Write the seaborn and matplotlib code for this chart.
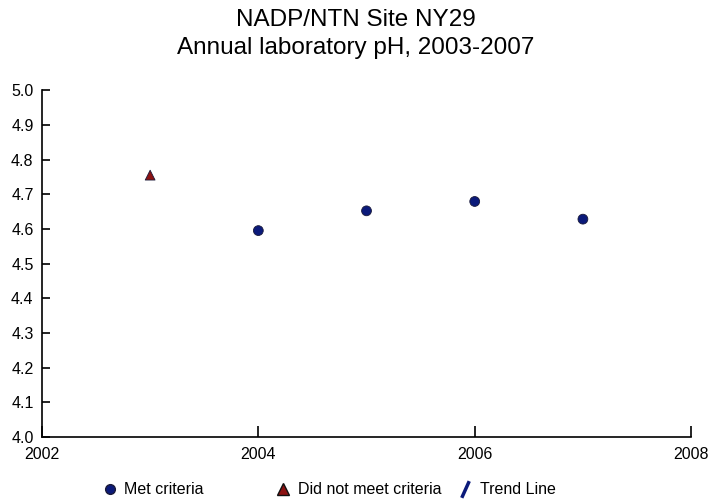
import matplotlib
matplotlib.use("Agg")
import matplotlib.pyplot as plt
from matplotlib.lines import Line2D
import seaborn as sns
import pandas as pd

years = [2003, 2004, 2005, 2006, 2007]
ph = [4.755, 4.595, 4.652, 4.679, 4.628]
status = ["Did not meet criteria", "Met criteria", "Met criteria", "Met criteria", "Met criteria"]
x_ticks = [2002, 2004, 2006, 2008]
y_ticks = [4.0, 4.1, 4.2, 4.3, 4.4, 4.5, 4.6, 4.7, 4.8, 4.9, 5.0]
legend_labels = ["Met criteria", "Did not meet criteria", "Trend Line"]

sns.set_theme(style="white")
plt.rcParams['font.family'] = ['Liberation Sans', 'DejaVu Sans']
plt.rcParams['text.color'] = 'black'
plt.rcParams['xtick.color'] = 'black'
plt.rcParams['ytick.color'] = 'black'

df = pd.DataFrame({"year": years, "ph": ph, "status": status})

fig = plt.figure(figsize=(7.11, 5.01), dpi=100)
ax = fig.add_axes([0.059, 0.128, 0.913, 0.692])

navy = "#0b1a7a"
dred = "#8b1212"
palette = {"Met criteria": navy, "Did not meet criteria": dred}
markers = {"Met criteria": "o", "Did not meet criteria": "^"}
sns.scatterplot(data=df, x="year", y="ph", hue="status", style="status",
                palette=palette, markers=markers, s=50, edgecolor="#1a1a3a",
                linewidth=0.6, legend=False, ax=ax, zorder=3)

ax.set_xlim(2002, 2008)
ax.set_ylim(4.0, 5.0)
ax.set_xticks(x_ticks)
ax.set_xticklabels([str(t) for t in x_ticks])
ax.set_yticks(y_ticks)
ax.set_yticklabels([f"{t:.1f}" for t in y_ticks])
ax.set_xlabel("")
ax.set_ylabel("")
for s in ["top", "right"]:
    ax.spines[s].set_visible(False)
for s in ["left", "bottom"]:
    ax.spines[s].set_color("black")
    ax.spines[s].set_linewidth(1.2)
ax.tick_params(axis="y", direction="in", length=6, width=1.2, color="black",
               labelsize=11.5, pad=6, left=True, labelcolor="black")
ax.tick_params(axis="x", direction="in", length=8, width=1.2, color="black",
               labelsize=11.5, pad=7, bottom=True, labelcolor="black")

fig.suptitle("NADP/NTN Site NY29\nAnnual laboratory pH, 2003-2007",
             fontsize=17.5, y=0.982, linespacing=1.38, color="black")

handles = [
    Line2D([], [], linestyle="none", marker="o", markersize=7,
           markerfacecolor=navy, markeredgecolor="#1a1a3a"),
    Line2D([], [], linestyle="none", marker="^", markersize=8,
           markerfacecolor=dred, markeredgecolor="#111111"),
    Line2D([], [], linestyle="none", marker=[(-0.45, -1), (0.45, 1)], markersize=12,
           markeredgecolor=navy, markeredgewidth=2.5),
]
anchors = [0.1406, 0.385, 0.641]
for h, lab, xa in zip(handles, legend_labels, anchors):
    fig.legend([h], [lab], loc="center left", bbox_to_anchor=(xa, 0.022),
               frameon=False, fontsize=11.5, handletextpad=0.3,
               handlelength=1.2, borderpad=0, borderaxespad=0)

fig.savefig("out.png", dpi=100)
